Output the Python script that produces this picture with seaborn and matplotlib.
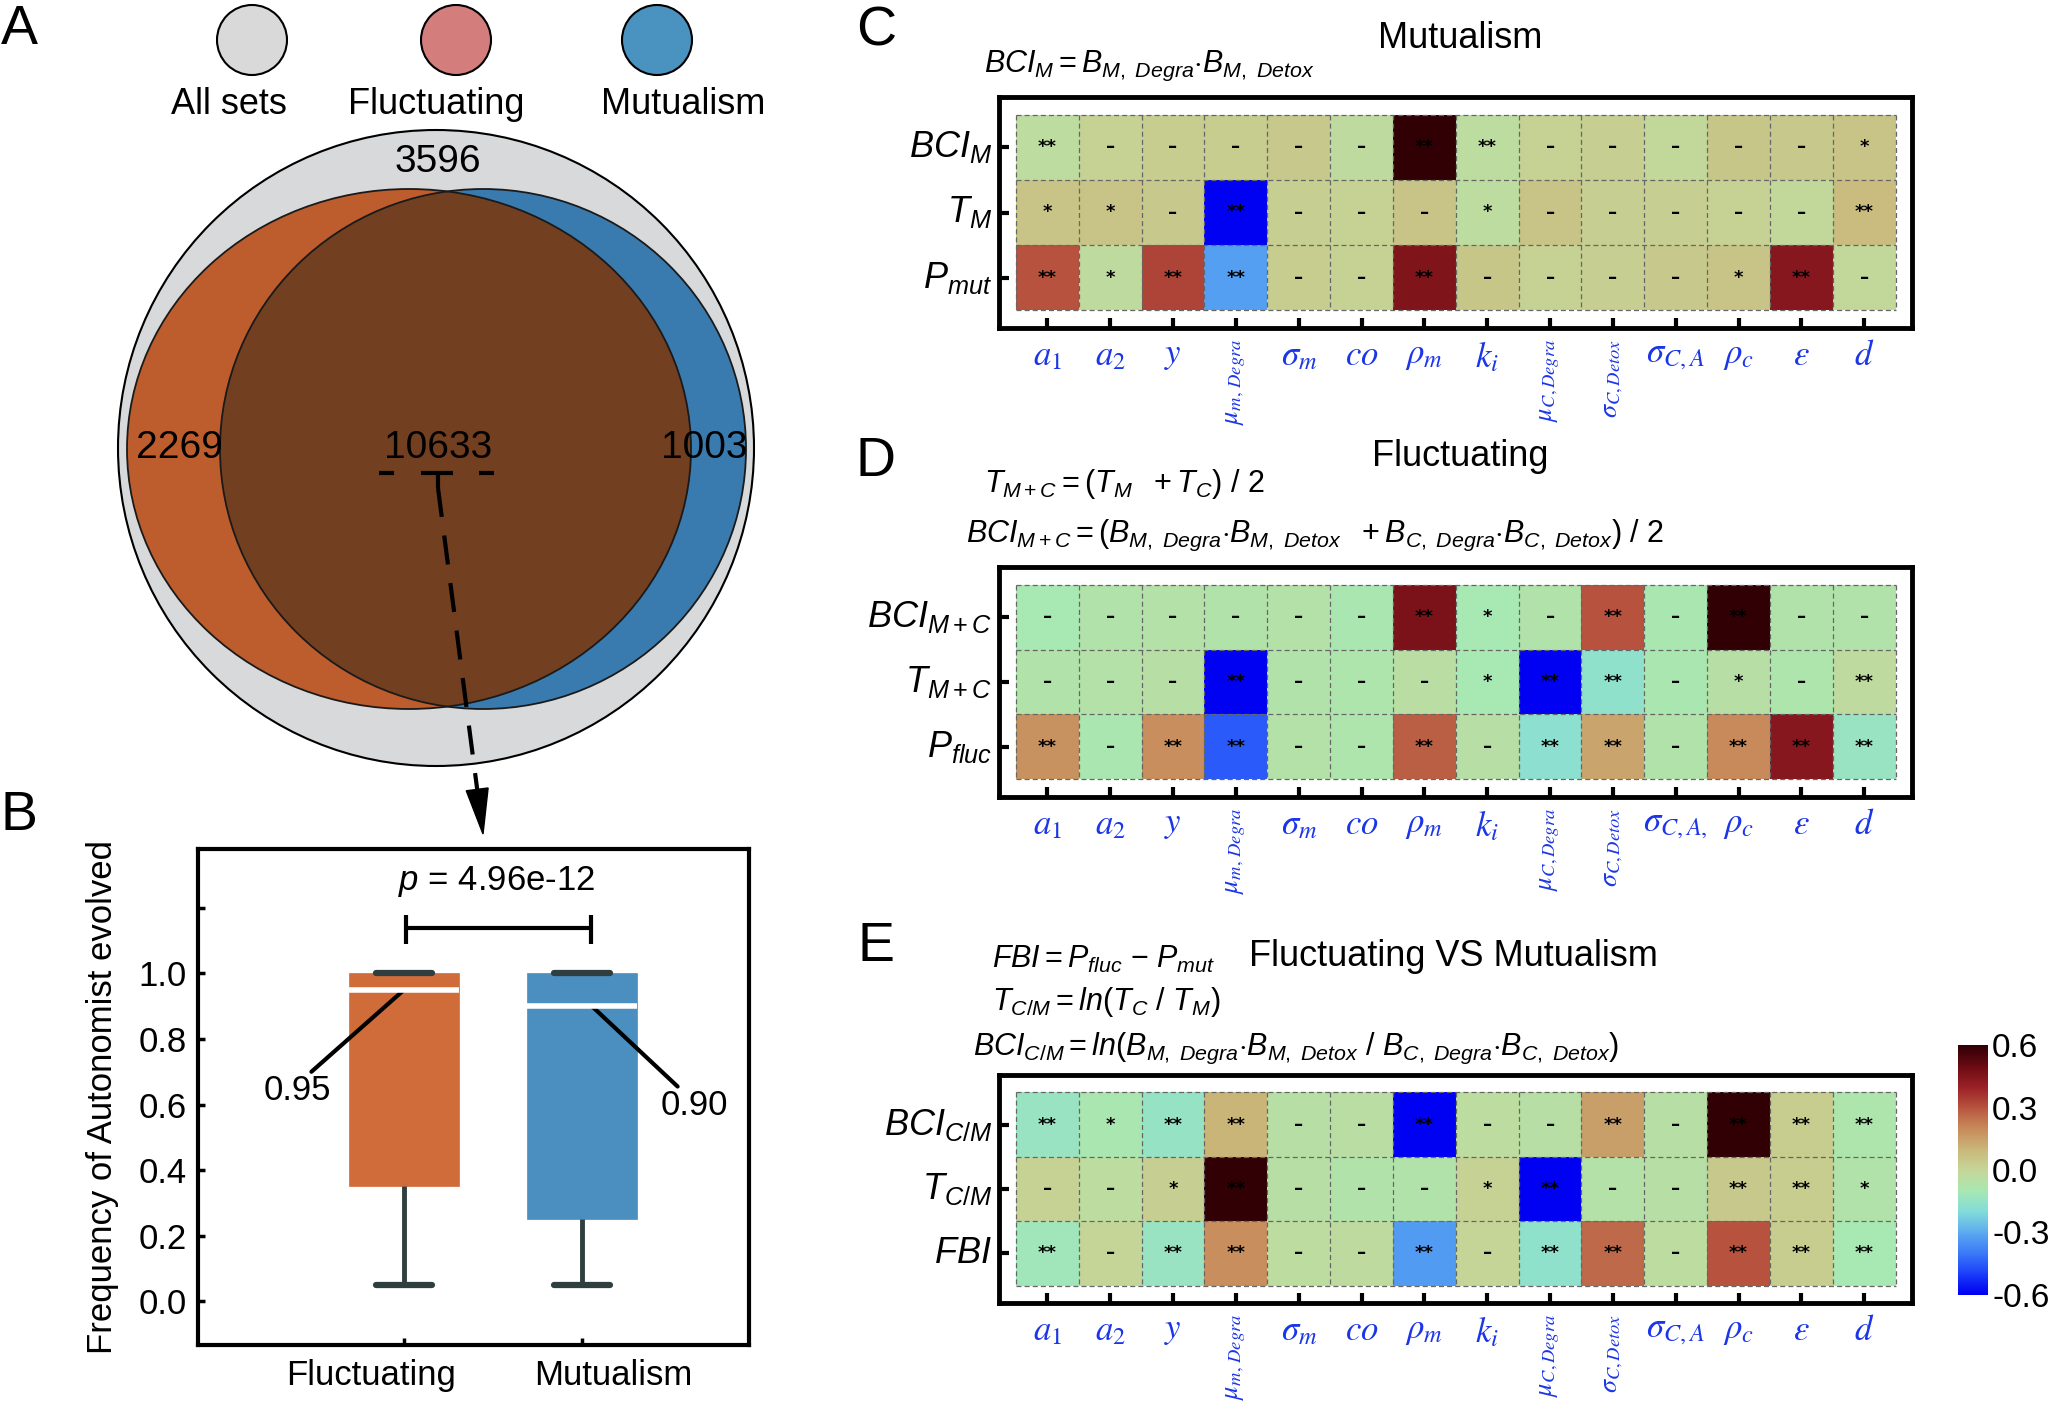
import matplotlib
matplotlib.use('agg')
import matplotlib.pyplot as plt
import matplotlib.transforms as mtrans
from matplotlib.colors import LinearSegmentedColormap
from matplotlib.patches import Ellipse, Circle, Polygon
import numpy as np
import pandas as pd
import seaborn as sns

# ---------------- data ----------------
# panel A (euler diagram)
venn_sets = ['All sets', 'Fluctuating', 'Mutualism']
venn_legend_colors = ['#D9D9D9', '#D47D7D', '#4A92C0']
venn_counts = [3596, 2269, 10633, 1003]   # outside, fluctuating only, both, mutualism only

# panel B (box plot)
box_groups = ['Fluctuating', 'Mutualism']
box_colors = ['#D06B3A', '#4A8FBF']
freq_fluctuating = [0.05, 0.35, 0.95, 1.00, 1.00]
freq_mutualism = [0.05, 0.25, 0.90, 1.00, 1.00]
p_text = r'$p$ = 4.96e-12'

# panels C-E (heatmaps)
params = [r'$a_1$', r'$a_2$', r'$y$', r'$\mu_{m,\,Degra}$', r'$\sigma_m$', r'$co$', r'$\rho_m$',
          r'$k_i$', r'$\mu_{C,Degra}$', r'$\sigma_{C,Detox}$', r'$\sigma_{C,A}$', r'$\rho_c$',
          r'$\varepsilon$', r'$d$']
params_d = params[:10] + [r'$\sigma_{C,A,}$'] + params[11:]
rotated_params = [3, 8, 9]

rows_c = [r'$BCI_M$', r'$T_M$', r'$P_{mut}$']
vals_c = [[-0.03, 0.01, 0.03, 0.03, 0.04, -0.02, 0.60, -0.03, 0.01, 0.02, -0.01, 0.05, 0.04, 0.06],
          [0.06, 0.06, 0.04, -0.60, 0.02, 0.01, 0.06, -0.03, 0.06, 0.02, 0.02, 0.01, -0.01, 0.08],
          [0.30, -0.02, 0.33, -0.32, 0.03, 0.01, 0.45, 0.05, 0.01, 0.02, 0.04, 0.06, 0.44, -0.01]]
sig_c = [['**', '–', '–', '–', '–', '–', '**', '**', '–', '–', '–', '–', '–', '*'],
         ['*', '*', '–', '**', '–', '–', '–', '*', '–', '–', '–', '–', '–', '**'],
         ['**', '*', '**', '**', '–', '–', '**', '–', '–', '–', '–', '*', '**', '–']]

rows_d = [r'$BCI_{M+C}$', r'$T_{M+C}$', r'$P_{fluc}$']
vals_d = [[-0.10, -0.07, -0.06, -0.07, -0.06, -0.09, 0.46, -0.10, -0.07, 0.30, -0.09, 0.60, -0.07, -0.07],
          [-0.07, -0.06, -0.05, -0.60, -0.07, -0.08, -0.04, -0.10, -0.60, -0.16, -0.09, -0.05, -0.08, -0.02],
          [0.18, -0.09, 0.19, -0.45, -0.06, -0.08, 0.28, -0.05, -0.17, 0.14, -0.07, 0.20, 0.44, -0.14]]
sig_d = [['–', '–', '–', '–', '–', '–', '**', '*', '–', '**', '–', '**', '–', '–'],
         ['–', '–', '–', '**', '–', '–', '–', '*', '**', '**', '–', '*', '–', '**'],
         ['**', '–', '**', '**', '–', '–', '**', '–', '**', '**', '–', '**', '**', '**']]

rows_e = [r'$BCI_{C/M}$', r'$T_{C/M}$', r'$FBI$']
vals_e = [[-0.14, -0.09, -0.15, 0.10, -0.05, -0.04, -0.60, -0.03, -0.05, 0.15, -0.05, 0.60, 0.03, -0.08],
          [0.01, -0.03, 0.02, 0.60, -0.05, -0.07, -0.07, 0.01, -0.60, -0.06, -0.05, 0.04, 0.03, -0.07],
          [-0.12, 0.00, -0.14, 0.19, -0.03, -0.02, -0.33, 0.00, -0.16, 0.26, -0.03, 0.30, 0.03, -0.10]]
sig_e = [['**', '*', '**', '**', '–', '–', '**', '–', '–', '**', '–', '**', '**', '**'],
         ['–', '–', '*', '**', '–', '–', '–', '*', '**', '–', '–', '**', '**', '*'],
         ['**', '–', '**', '**', '–', '–', '**', '–', '**', '**', '–', '**', '**', '**']]

cbar_ticks = [0.6, 0.3, 0.0, -0.3, -0.6]

# ---------------- style ----------------
sns.set_theme(style='white')
plt.rcParams['font.family'] = ['Liberation Sans', 'DejaVu Sans']
plt.rcParams['mathtext.fontset'] = 'custom'
plt.rcParams['mathtext.rm'] = 'Liberation Sans'
plt.rcParams['mathtext.it'] = 'Liberation Sans:italic'
plt.rcParams['mathtext.bf'] = 'Liberation Sans:bold'
for k in ['text.color', 'axes.labelcolor', 'xtick.color', 'ytick.color']:
    plt.rcParams[k] = 'black'

W, H = 2048, 1408
fig = plt.figure(figsize=(W / 100, H / 100), dpi=100)


def frac(x0, y0, x1, y1):
    return [x0 / W, 1 - y1 / H, (x1 - x0) / W, (y1 - y0) / H]


# ---------------- panel A: euler diagram (pixel overlay) ----------------
ov = fig.add_axes([0, 0, 1, 1])
ov.set_xlim(0, W)
ov.set_ylim(H, 0)
ov.set_axis_off()
ov.patch.set_alpha(0)

ov.add_patch(Ellipse((436, 448), 636, 636, fc='#D8D9DA', ec='black', lw=1.5))
fl = Ellipse((409, 449), 564, 520, fc='#BD5C2C', ec='none')
mu = Ellipse((483, 449), 526, 520, fc='#3A7BAF', ec='none')
ov.add_patch(fl)
ov.add_patch(mu)
both = Ellipse((409, 449), 564, 520, fc='#723F20', ec='none')
ov.add_patch(both)
both.set_clip_path(mu)
ov.add_patch(Ellipse((409, 449), 564, 520, fill=False, ec='#1a1a1a', lw=1.3))
ov.add_patch(Ellipse((483, 449), 526, 520, fill=False, ec='#1a1a1a', lw=1.3))

for (cx, lx), name, col in zip([(252, 229), (456, 436), (657, 683)], venn_sets, venn_legend_colors):
    ov.add_patch(Circle((cx, 40), 35, fc=col, ec='black', lw=1.5))
    ov.text(lx, 104, name, ha='center', va='center', fontsize=26)

for (tx, ty), n in zip([(438, 162), (179, 448), (438, 448), (704, 448)], venn_counts):
    ov.text(tx, ty, str(n), ha='center', va='center', fontsize=28)

# bracket under the shared count and dashed pointer to panel B
ov.hlines([473, 473, 473], [379, 421, 479], [394, 453, 494], color='black', lw=3)
ov.vlines(438, 473, 488, color='black', lw=3)
p0, p1 = np.array([438, 488]), np.array([483, 834])
d = (p1 - p0) / np.linalg.norm(p1 - p0)
base = p1 - 45 * d
perp = np.array([d[1], -d[0]])
ov.plot([p0[0], base[0]], [p0[1], base[1]], color='black', lw=3, dashes=(7, 4.5))
ov.add_patch(Polygon([p1, base + 11 * perp, base - 11 * perp], closed=True, fc='black', ec='black'))

for letter, (lx, ly) in zip('ABCDE', [(19, 30), (19, 816), (876, 31), (876, 462), (876, 947)]):
    ov.text(lx, ly, letter, ha='center', va='center', fontsize=40)

# ---------------- panel B: box plot ----------------
ax_b = fig.add_axes(frac(198, 849, 749, 1345))
df_box = pd.DataFrame({'group': np.repeat(box_groups, len(freq_fluctuating)),
                       'freq': freq_fluctuating + freq_mutualism})
sns.boxplot(data=df_box, x='group', y='freq', hue='group', palette=box_colors, saturation=1,
            width=0.62, showfliers=False, legend=False, ax=ax_b,
            medianprops=dict(color='white', lw=4),
            whiskerprops=dict(color='#2F3E3E', lw=3.5),
            capprops=dict(color='#2F3E3E', lw=4.5))
for p in ax_b.patches:
    p.set_edgecolor(p.get_facecolor())
    p.set_linewidth(0.5)
ax_b.set_xlim(-1.157, 1.938)
ax_b.set_ylim(-0.134, 1.38)
ax_b.set_yticks([0, 0.2, 0.4, 0.6, 0.8, 1.0, 1.2])
ax_b.set_yticklabels(['0.0', '0.2', '0.4', '0.6', '0.8', '1.0', ''])
ax_b.tick_params(axis='both', direction='in', length=5, width=2.5, labelsize=25,
                 left=True, bottom=True)
ax_b.tick_params(axis='y', pad=8)
ax_b.tick_params(axis='x', pad=10)
for s in ax_b.spines.values():
    s.set_visible(True)
    s.set_linewidth(3)
    s.set_color('black')
ax_b.set_xlabel('')
ax_b.set_ylabel('Frequency of Autonomist evolved', fontsize=25, labelpad=14)
for lbl, dx in zip(ax_b.get_xticklabels(), [-0.33, 0.31]):
    lbl.set_transform(lbl.get_transform() + mtrans.ScaledTranslation(dx, 0, fig.dpi_scale_trans))

med_f, med_m = np.median(freq_fluctuating), np.median(freq_mutualism)
ax_b.plot([0, -0.52], [med_f, 0.70], color='black', lw=3)
ax_b.text(-0.60, 0.643, f'{med_f:.2f}', ha='center', va='center', fontsize=25)
ax_b.plot([1.056, 1.537], [med_m, 0.655], color='black', lw=3)
ax_b.text(1.63, 0.596, f'{med_m:.2f}', ha='center', va='center', fontsize=25)
ax_b.plot([0.01, 1.05], [1.14, 1.14], color='black', lw=3)
ax_b.vlines([0.01, 1.05], 1.09, 1.18, color='black', lw=3)
ax_b.text(0.52, 1.28, p_text, ha='center', va='center', fontsize=25)

# ---------------- panels C-E: heatmaps ----------------
cmap_vals = [-0.6, -0.5, -0.4, -0.3, -0.2, -0.1, 0.0, 0.1, 0.2, 0.3, 0.4, 0.5, 0.6]
cmap_cols = ['#0000F2', '#1A3EFA', '#3C7AF8', '#5CAAF0', '#82DCDA', '#A8E8B2', '#C5D698',
             '#CAB679', '#C88A5A', '#B8543F', '#9A2026', '#6A0A12', '#300005']
cmap = LinearSegmentedColormap.from_list(
    'corr', list(zip((np.array(cmap_vals) + 0.6) / 1.2, cmap_cols)))

cax = fig.add_axes(frac(1958, 1045, 1988, 1295))


def heat_panel(box, vals, sig, rows, cols, with_cbar=False):
    ax = fig.add_axes(frac(*box))
    df = pd.DataFrame(vals, index=rows, columns=cols)
    sns.heatmap(df, ax=ax, cmap=cmap, vmin=-0.6, vmax=0.6, annot=np.array(sig), fmt='',
                annot_kws={'fontsize': 13, 'fontweight': 'bold', 'color': 'black',
                           'family': 'DejaVu Sans'},
                cbar=with_cbar, cbar_ax=cax if with_cbar else None,
                cbar_kws={'ticks': cbar_ticks} if with_cbar else {})
    nr, nc = df.shape
    ax.hlines(range(nr + 1), 0, nc, colors='#666666', lw=0.9, linestyles=(0, (4, 2.5)))
    ax.vlines(range(nc + 1), 0, nr, colors='#666666', lw=0.9, linestyles=(0, (4, 2.5)))
    ax.set_xlim(-0.27, nc + 0.26)
    ax.set_ylim(nr + 0.27, -0.27)
    for s in ax.spines.values():
        s.set_visible(True)
        s.set_linewidth(3.5)
        s.set_color('black')
    ax.set_xticks(np.arange(nc) + 0.5)
    ax.set_xticklabels(cols, fontsize=25, color='#1B35E8')
    for i, lbl in enumerate(ax.get_xticklabels()):
        lbl.set_math_fontfamily('stix')
        if i in rotated_params:
            lbl.set_rotation(90)
            lbl.set_fontsize(19)
        else:
            lbl.set_rotation(0)
    ax.set_yticks(np.arange(nr) + 0.5)
    ax.set_yticklabels(rows, fontsize=26, rotation=0)
    ax.tick_params(axis='both', direction='in', length=7, width=3, color='black',
                   left=True, bottom=True)
    ax.tick_params(axis='x', pad=8)
    ax.tick_params(axis='y', pad=5)
    ax.set_xlabel('')
    ax.set_ylabel('')
    return ax


ax_c = heat_panel((999, 97, 1912, 328), vals_c, sig_c, rows_c, params)
ax_d = heat_panel((999, 567, 1912, 797), vals_d, sig_d, rows_d, params_d)
ax_e = heat_panel((999, 1075, 1912, 1303), vals_e, sig_e, rows_e, params, with_cbar=True)

cax.set_yticks(cbar_ticks)
cax.set_yticklabels(['0.6', '0.3', '0.0', '-0.3', '-0.6'])
cax.tick_params(length=0, labelsize=24, pad=3, right=True, left=False)
cbar = ax_e.collections[0].colorbar
cbar.outline.set_visible(False)

# titles and formulas, positioned in figure pixels
ov.text(1460, 38, 'Mutualism', ha='center', va='center', fontsize=26)
ov.text(984, 72, r'$BCI_M = B_{M,\ Degra}{\cdot}B_{M,\ Detox}$', fontsize=22, va='baseline')

ov.text(1460, 457, 'Fluctuating', ha='center', va='center', fontsize=26)
ov.text(984, 492, r'$T_{M+C} = (T_M\ \ + T_C)\ /\ 2$', fontsize=22, va='baseline')
ov.text(966, 542, r'$BCI_{M+C} = (B_{M,\ Degra}{\cdot}B_{M,\ Detox}\ \ + B_{C,\ Degra}{\cdot}B_{C,\ Detox})\ /\ 2$',
        fontsize=22, va='baseline')

ov.text(1249, 966, 'Fluctuating VS Mutualism', ha='left', va='baseline', fontsize=26)
ov.text(992, 968, r'$FBI = P_{fluc}\ \mathrm{-}\ P_{mut}$', fontsize=22, va='baseline')
ov.text(992, 1010, r'$T_{C/M} = ln(T_C\ /\ T_M)$', fontsize=22, va='baseline')
ov.text(973, 1055, r'$BCI_{C/M} = ln(B_{M,\ Degra}{\cdot}B_{M,\ Detox}\ /\ B_{C,\ Degra}{\cdot}B_{C,\ Detox})$',
        fontsize=22, va='baseline')

fig.savefig('out.png', dpi=100)
